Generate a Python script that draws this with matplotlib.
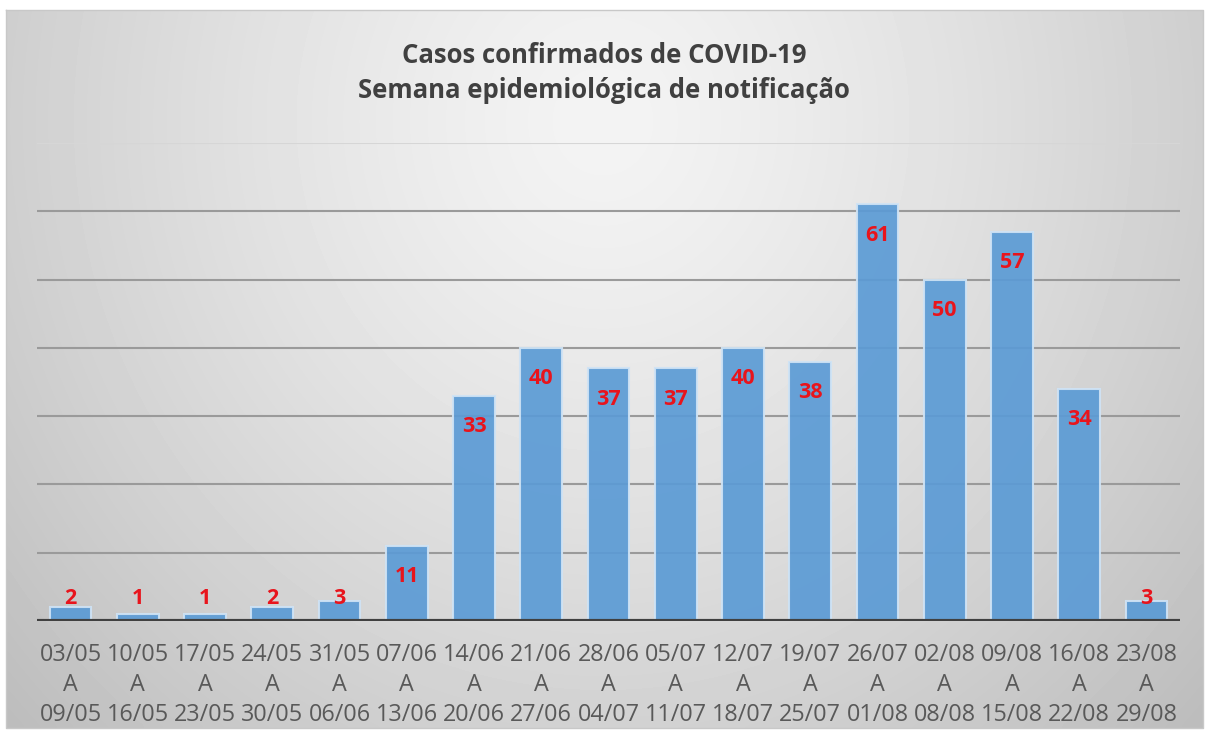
import matplotlib.pyplot as plt
import numpy as np

# semanas epidemiológicas (início / fim) e casos confirmados
week_start = ['03/05', '10/05', '17/05', '24/05', '31/05', '07/06', '14/06', '21/06', '28/06',
              '05/07', '12/07', '19/07', '26/07', '02/08', '09/08', '16/08', '23/08']
week_end = ['09/05', '16/05', '23/05', '30/05', '06/06', '13/06', '20/06', '27/06', '04/07',
            '11/07', '18/07', '25/07', '01/08', '08/08', '15/08', '22/08', '29/08']
cases = [2, 1, 1, 2, 3, 11, 33, 40, 37, 37, 40, 38, 61, 50, 57, 34, 3]

W, H = 1206, 733
fig = plt.figure(figsize=(W / 100, H / 100), dpi=100)
fig.patch.set_facecolor('white')

# background: radial grey gradient inside a frame
bg = fig.add_axes([0, 0, 1, 1], zorder=0)
bg.set_xlim(0, W)
bg.set_ylim(H, 0)
bg.axis('off')
x0, x1, y0, y1 = 6, 1203, 10, 728
xx, yy = np.meshgrid(np.linspace(x0, x1, 300), np.linspace(y0, y1, 200))
r = np.sqrt(((xx - 603) / 650) ** 2 + ((yy - 120) / 700) ** 2)
shade = np.clip(0.955 - 0.16 * r ** 1.3, 0.74, 1)
bg.imshow(shade, cmap='gray', vmin=0, vmax=1, extent=(x0, x1, y1, y0),
          aspect='auto', interpolation='bicubic')
bg.plot([x0, x1, x1, x0, x0], [y0, y0, y1, y1, y0], color='#c8c8c8', lw=1)

fig.text(604 / W, 1 - 73 / H, 'Casos confirmados de COVID-19\nSemana epidemiológica de notificação',
         ha='center', va='center', fontsize=18.5, fontweight='bold', color='#404040',
         family='Open Sans', linespacing=1.4)

ax = fig.add_axes([37 / W, 1 - 621 / H, (1180 - 37) / W, (621 - 143) / H], zorder=1)
ax.patch.set_alpha(0)
x = np.arange(len(cases))
ax.bar(x, cases, width=0.62, color='#5b9bd5', alpha=0.92, edgecolor='#cfe3f5',
       linewidth=1.5, zorder=3)

for gv in range(10, 70, 10):
    ax.axhline(gv, color='#9a9a9a', lw=1.5, zorder=1)
ax.axhline(70, color='#d6d6d6', lw=1.5, zorder=1)
ax.axhline(0, color='#404040', lw=3, zorder=4)

for xi, v in zip(x, cases):
    ax.text(xi, max(v - 4.5, 3.3), str(v), ha='center', va='center', color='#e8141c',
            fontsize=15.5, fontweight='bold', family='Open Sans', zorder=5)

ax.set_xlim(-0.5, len(cases) - 0.5)
ax.set_ylim(0, 70)
ax.set_yticks([])
ax.set_xticks(x)
ax.set_xticklabels([f'{a}\nA\n{b}' for a, b in zip(week_start, week_end)],
                   fontsize=16.8, color='#595959', family='Open Sans', linespacing=1.33)
ax.tick_params(axis='x', length=0, pad=16)
for s in ax.spines.values():
    s.set_visible(False)

fig.savefig('out.png', dpi=100)
